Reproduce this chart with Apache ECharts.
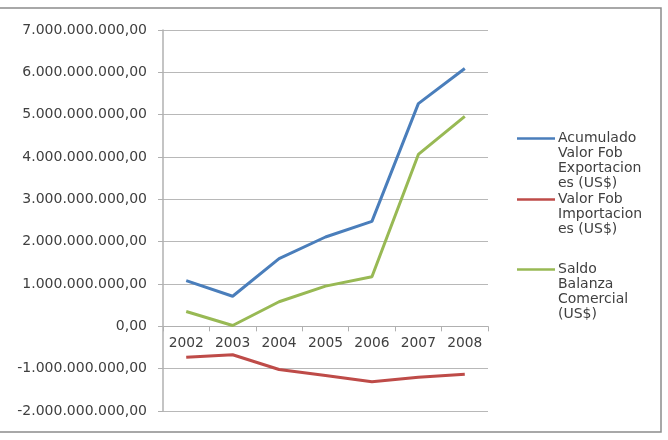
<!DOCTYPE html>
<html>
<head>
<meta charset="utf-8">
<script src="https://cdn.jsdelivr.net/npm/echarts@6/dist/echarts.min.js"></script>
<style>
  html, body { margin: 0; padding: 0; background: #fff; }
  #chart { width: 668px; height: 440px; }
</style>
</head>
<body>
<div id="chart"></div>
<script>
// datos
var years = ["2002", "2003", "2004", "2005", "2006", "2007", "2008"];
var exportaciones = [1080000000, 710000000, 1600000000, 2110000000, 2480000000, 5260000000, 6090000000];
var importaciones = [-730000000, -670000000, -1020000000, -1160000000, -1310000000, -1200000000, -1130000000];
var saldo = [350000000, 20000000, 580000000, 950000000, 1170000000, 4060000000, 4960000000];
var seriesNames = [
  "Acumulado Valor Fob Exportaciones (US$)",
  "Valor Fob Importaciones (US$)",
  "Saldo Balanza Comercial (US$)"
];
// texto de la leyenda tal como se corta en la imagen
var legendLines = [
  ["Acumulado", "Valor Fob", "Exportacion", "es (US$)"],
  ["Valor Fob", "Importacion", "es (US$)"],
  ["Saldo", "Balanza", "Comercial", "(US$)"]
];
var colors = ["#4a7ebb", "#be4b48", "#98b954"];
var yMin = -2000000000, yMax = 7000000000;

function fmtNum(v) {
  var neg = v < 0;
  var s = Math.abs(Math.round(v)).toString();
  s = s.replace(/\B(?=(\d{3})+(?!\d))/g, ".");
  return (neg ? "-" : "") + s + ",00";
}

var chart = echarts.init(document.getElementById("chart"));
var lineH = 15;
var legendTops = [131, 192, 262];
var gridTop = 30, gridBottom = 29;
var plotH = 440 - gridTop - gridBottom;
// el eje x va en el cero
var zeroOffset = -plotH * (0 - yMin) / (yMax - yMin);

var legends = seriesNames.map(function (name, i) {
  var n = legendLines[i].length;
  var h = n * lineH;
  // la linea del icono queda a la altura del primer renglon
  var icon = "path://M0,0 M0,6.3 L38,6.3 L38,8.7 L0,8.7 Z M38," + h;
  return {
    data: [name],
    orient: "vertical",
    left: 517,
    top: legendTops[i],
    padding: 0,
    itemWidth: 38,
    itemHeight: h,
    itemGap: 0,
    icon: icon,
    itemStyle: { borderWidth: 0 },
    formatter: function () { return legendLines[i].join("\n"); },
    textStyle: {
      fontFamily: "DejaVu Sans",
      fontSize: 14,
      color: "#404040",
      lineHeight: lineH,
      padding: [0, 0, 0, -2]
    }
  };
});

var option = {
  animation: false,
  color: colors,
  legend: legends,
  grid: { left: 163, right: 180, top: gridTop, bottom: gridBottom, containLabel: false },
  graphic: [{
    type: "rect",
    shape: { x: -5, y: 8, width: 666, height: 424 },
    style: { fill: "none", stroke: "#8c8c8c", lineWidth: 1.5 },
    silent: true
  }],
  xAxis: {
    type: "category",
    data: years,
    boundaryGap: true,
    offset: zeroOffset,
    axisLine: { onZero: false, lineStyle: { color: "#b0b0b0", width: 1 } },
    axisTick: { show: true, length: 5, inside: false, lineStyle: { color: "#b0b0b0" } },
    axisLabel: { fontFamily: "DejaVu Sans", fontSize: 13.8, color: "#404040", margin: 10 },
    splitLine: { show: false }
  },
  yAxis: {
    type: "value",
    min: yMin,
    max: yMax,
    interval: 1000000000,
    axisLine: { show: true, onZero: false, lineStyle: { color: "#b0b0b0", width: 1.5 } },
    axisTick: { show: true, length: 5, lineStyle: { color: "#b0b0b0" } },
    axisLabel: {
      fontFamily: "DejaVu Sans",
      fontSize: 14,
      color: "#404040",
      margin: 16,
      formatter: fmtNum
    },
    splitLine: { lineStyle: { color: "#b8b8b8", width: 1 } }
  },
  series: [
    { name: seriesNames[0], type: "line", data: exportaciones, symbol: "none", lineStyle: { width: 3 } },
    { name: seriesNames[1], type: "line", data: importaciones, symbol: "none", lineStyle: { width: 3 } },
    { name: seriesNames[2], type: "line", data: saldo, symbol: "none", lineStyle: { width: 3 } }
  ]
};
chart.setOption(option);
</script>
</body>
</html>
